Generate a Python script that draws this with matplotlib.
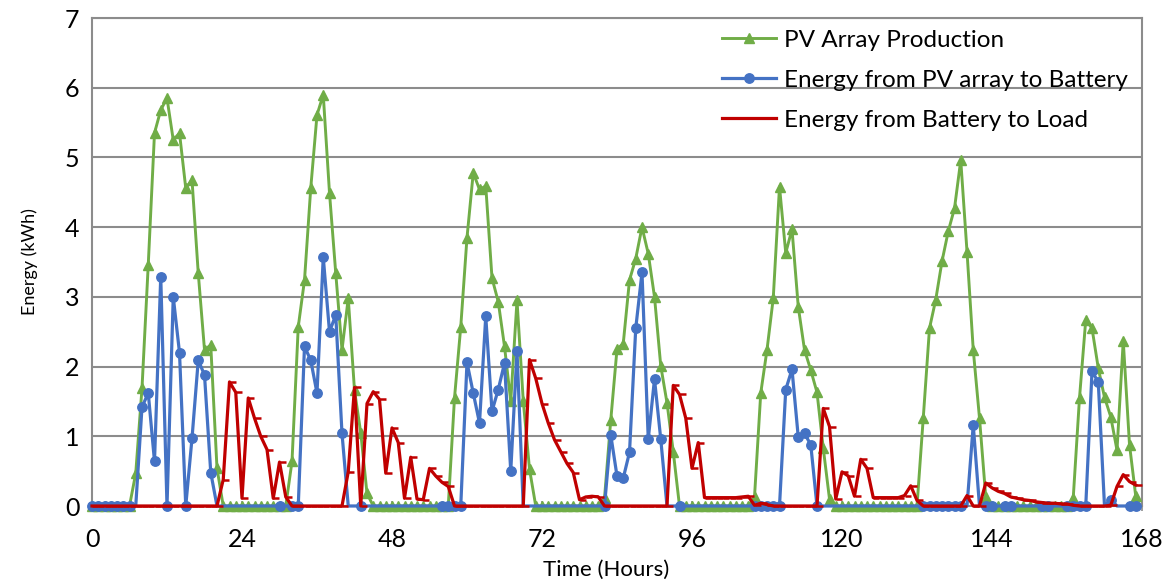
import matplotlib
matplotlib.use("Agg")
import matplotlib.pyplot as plt
from matplotlib.path import Path
import numpy as np

# ---------------- data (hourly, hour 0..167) ----------------
hours = list(range(168))

pv_production = [
    0, 0, 0, 0, 0, 0, 0, 0.47, 1.69, 3.46, 5.35, 5.68, 5.85, 5.25, 5.35, 4.56, 4.68, 3.34, 2.24, 2.31,
    0.54, 0, 0, 0, 0, 0, 0, 0, 0, 0, 0, 0, 0.64, 2.57, 3.24, 4.56, 5.61, 5.90, 4.49, 3.34,
    2.24, 2.98, 1.66, 1.05, 0.18, 0, 0, 0, 0, 0, 0, 0, 0, 0, 0, 0, 0, 0, 1.55, 2.57,
    3.85, 4.78, 4.54, 4.59, 3.27, 2.93, 2.29, 1.50, 2.95, 1.51, 0.53, 0, 0, 0, 0, 0, 0, 0, 0, 0,
    0, 0, 0.11, 1.23, 2.25, 2.33, 3.24, 3.55, 4.00, 3.62, 3.00, 2.01, 1.48, 0.78, 0, 0, 0, 0, 0, 0,
    0, 0, 0, 0, 0, 0, 0.13, 1.62, 2.24, 2.98, 4.58, 3.63, 3.97, 2.86, 2.24, 1.95, 1.63, 0.83, 0.10, 0,
    0, 0, 0, 0, 0, 0, 0, 0, 0, 0, 0, 0, 0, 1.26, 2.55, 2.96, 3.51, 3.94, 4.27, 4.96,
    3.65, 2.24, 1.26, 0.13, 0, 0, 0, 0, 0, 0, 0, 0, 0, 0, 0, 0, 0, 0.12, 1.55, 2.67,
    2.55, 1.98, 1.56, 1.28, 0.80, 2.37, 0.88, 0.14,
]

pv_to_battery = [
    0, 0, 0, 0, 0, 0, 0, 0, 1.42, 1.62, 0.64, 3.29, 0, 3.00, 2.20, 0, 0.97, 2.09, 1.88, 0.48,
    0, 0, 0, 0, 0, 0, 0, 0, 0, 0, 0, 0, 0, 0, 2.29, 2.09, 1.62, 3.57, 2.50, 2.74,
    1.04, 0, 0, 0, 0, 0, 0, 0, 0, 0, 0, 0, 0, 0, 0, 0, 0, 0, 0, 0,
    2.06, 1.62, 1.19, 2.72, 1.36, 1.67, 2.05, 0.50, 2.22, 0, 0, 0, 0, 0, 0, 0, 0, 0, 0, 0,
    0, 0, 0, 1.02, 0.43, 0.40, 0.77, 2.55, 3.35, 0.96, 1.82, 0.96, 0, 0, 0, 0, 0, 0, 0, 0,
    0, 0, 0, 0, 0, 0, 0, 0, 0, 0, 0, 1.67, 1.96, 0.99, 1.04, 0.88, 0, 0, 0, 0,
    0, 0, 0, 0, 0, 0, 0, 0, 0, 0, 0, 0, 0, 0, 0, 0, 0, 0, 0, 0,
    0, 1.16, 0, 0, 0, 0, 0, 0, 0, 0, 0, 0, 0, 0, 0, 0, 0, 0, 0, 0,
    1.93, 1.78, 0, 0.09, 0, 0, 0, 0,
]

# hours at which a zero-valued point of the blue series shows its marker
battery_zero_marked_hours = [0, 1, 2, 3, 4, 5, 6, 12, 15, 30, 32, 33, 43, 56, 57, 58, 59, 82, 94,
                             106, 107, 108, 109, 110, 116, 133, 134, 135, 136, 137, 138, 139,
                             143, 144, 146, 147, 152, 153, 156, 157, 158, 159, 166, 167]

battery_to_load = [
    0, 0, 0, 0, 0, 0, 0, 0, 0, 0, 0, 0, 0, 0, 0, 0, 0, 0, 0, 0,
    0, 0.38, 1.78, 1.63, 0.11, 1.55, 1.26, 1.00, 0.81, 0.11, 0.63, 0.13, 0, 0, 0, 0, 0, 0, 0, 0,
    0, 0.49, 1.70, 0, 1.47, 1.64, 1.53, 0.47, 1.12, 0.91, 0.11, 0.70, 0.10, 0.09, 0.54, 0.43, 0.34, 0.28, 0, 0,
    0, 0, 0, 0, 0, 0, 0, 0, 0, 0, 2.10, 1.83, 1.47, 1.19, 0.95, 0.78, 0.61, 0.48, 0.09, 0.13,
    0.14, 0.13, 0, 0, 0, 0, 0, 0, 0, 0, 0, 0, 0, 1.73, 1.60, 1.26, 0.54, 0.91, 0.12, 0.12,
    0.12, 0.12, 0.12, 0.12, 0.13, 0.14, 0.01, 0.04, 0.02, 0, 0, 0, 0, 0, 0, 0, 0, 1.40, 1.14, 0.10,
    0.49, 0.43, 0.14, 0.67, 0.54, 0.12, 0.12, 0.12, 0.12, 0.12, 0.15, 0.29, 0.08, 0, 0, 0, 0, 0, 0, 0,
    0.15, 0, 0, 0.33, 0.26, 0.21, 0.18, 0.13, 0.11, 0.09, 0.08, 0.06, 0.05, 0.04, 0.04, 0.03, 0.03, 0.01, 0, 0,
    0, 0, 0, 0.01, 0.28, 0.45, 0.35, 0.30,
]

series_labels = ["PV Array Production", "Energy from PV array to Battery", "Energy from Battery to Load"]
x_ticks = [0, 24, 48, 72, 96, 120, 144, 168]
y_ticks = [0, 1, 2, 3, 4, 5, 6, 7]

# ---------------- style ----------------
FONT = "Lato"
plt.rcParams["font.family"] = [FONT, "DejaVu Sans"]

GREEN = "#70AD47"
BLUE = "#4472C4"
RED = "#C00000"
GRID = "#8C8C8C"

fig = plt.figure(figsize=(11.71, 5.87), dpi=100)
ax = fig.add_axes([92 / 1171, 1 - 506 / 587, 1050 / 1171, 488 / 587])

blue_mark_idx = [i for i, v in enumerate(pv_to_battery) if v != 0 or hours[i] in battery_zero_marked_hours]

dash_marker = Path([(0.0, 0.0), (1.0, 0.0)], [Path.MOVETO, Path.LINETO])

ax.plot(hours, pv_production, color=GREEN, lw=2.1, marker="^", ms=6.5,
        label=series_labels[0], zorder=3, clip_on=False)
ax.plot(hours, pv_to_battery, color=BLUE, lw=2.3, marker="o", ms=6.8, markevery=blue_mark_idx,
        label=series_labels[1], zorder=4, clip_on=False)
ax.plot(hours, battery_to_load, color=RED, lw=2.3, marker=dash_marker, ms=8, mew=1.8,
        label=series_labels[2], zorder=5, clip_on=False)

ax.set_xlim(0, 168)
ax.set_ylim(0, 7)
ax.set_xticks(x_ticks)
ax.set_yticks(y_ticks)
ax.yaxis.grid(True, color=GRID, lw=1.5, zorder=0)
ax.set_axisbelow(True)
for s in ax.spines.values():
    s.set_color(GRID)
    s.set_linewidth(1.5)
ax.tick_params(axis="x", direction="inout", length=7, color=GRID, width=1.2,
               labelsize=18, pad=12)
ax.tick_params(axis="y", length=0, labelsize=18, pad=9)

ax.set_ylabel("Energy (kWh)", fontsize=13, labelpad=19)
ax.set_xlabel("Time (Hours)", fontsize=16, labelpad=8)
ax.xaxis.set_label_coords(0.49, -0.11)

leg = ax.legend(loc="upper left", bbox_to_anchor=(712 / 1171, 1 - 20 / 587),
                bbox_transform=fig.transFigure, frameon=False, fontsize=17.5,
                handlelength=2.25, handletextpad=0.3, labelspacing=0.78, borderaxespad=0)

fig.savefig("out.png", dpi=100)
